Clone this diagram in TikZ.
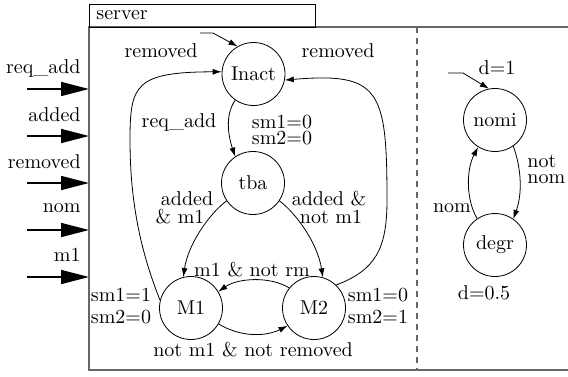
\documentclass[tikz,border=0pt]{standalone}
\usetikzlibrary{arrows.meta}
\begin{document}
\begin{tikzpicture}[x=0.5pt,y=-0.5pt,
  state/.style={draw,circle,minimum size=31.5pt,inner sep=0pt},
  arr/.style={-{Latex[length=4.5pt,width=3pt]}},
  inarrow/.style={line width=0.8pt,-{Triangle[length=14pt,width=7pt]}},
  lbl/.style={inner sep=0pt},
  frame/.style={draw=black!60,line width=0.65pt}]
\useasboundingbox (0,0) rectangle (568,376);
% frame
\draw[frame] (568,27) -- (89,27) -- (89,370) -- (568,370);
\draw[frame,dash pattern=on 3pt off 2.5pt] (417,27) -- (417,370);
\node[draw,minimum width=113pt,minimum height=11.5pt,inner sep=0pt,anchor=north west] (srv) at (89,4) {};
\node[lbl,anchor=west] (srvt) at (96,15) {server};
% states
\node[state] (Inact) at (253.5,74) {Inact};
\node[state] (tba) at (253,183) {tba};
\node[state] (M1) at (191,308) {M1};
\node[state] (M2) at (314,308) {M2};
\node[state] (nomi) at (495,120) {nomi};
\node[state] (degr) at (495,245) {degr};
% initial arrows
\coordinate (i0) at (200,33);
\coordinate (i1) at (213,33);
\draw[arr] (i0) -- (i1) -- (Inact.120);
\coordinate (j0) at (448,73);
\coordinate (j1) at (463,73);
\draw[arr] (j0) -- (j1) -- (nomi.101);
% transitions
\draw[arr] (Inact.235.5) .. controls (225,115) and (228,135) .. (tba.124.7);
\draw[arr] (M1.166) .. controls (140,250) and (130,200) .. (130,140) .. controls (130,85) and (135,72) .. (Inact.176);
\draw[arr] (M2.46) .. controls (375,270) and (387,250) .. (387,200) .. controls (387,90) and (380,72) .. (Inact.349);
\draw[arr] (tba.214) .. controls (208,215) and (188,245) .. (M1.104.5);
\draw[arr] (tba.326) .. controls (298,215) and (318,245) .. (M2.74);
\draw[arr] (M2.141) .. controls (270,276) and (238,278) .. (M1.31.6);
\draw[arr] (M1.330) .. controls (240,337) and (265,337) .. (M2.214);
\draw[arr] (nomi.305) .. controls (522,170) and (522,195) .. (degr.55.8);
\draw[arr] (degr.124.8) .. controls (466,200) and (466,170) .. (nomi.238);
% input arrows
\foreach \n/\yy in {a/89,b/136,c/183,d/230,e/277}{
  \coordinate (s\n) at (27,\yy);
  \coordinate (t\n) at (89,\yy);
  \draw[inarrow] (s\n) -- (t\n);
}
\node[lbl,anchor=east] (la) at (81,68) {req\_add};
\node[lbl,anchor=east] (lb) at (81,115) {added};
\node[lbl,anchor=east] (lc) at (81,162) {removed};
\node[lbl,anchor=east] (ld) at (81,208) {nom};
\node[lbl,anchor=east] (le) at (81,255) {m1};
% labels
\node[lbl] (r1) at (161,51) {removed};
\node[lbl] (r2) at (338,51) {removed};
\node[lbl] (ra) at (179,122) {req\_add};
\node[lbl,align=center] (s12) at (282,130) {sm1=0\\[-4pt]sm2=0};
\node[lbl] (am1) at (187,199) {added};
\node[lbl] (am2) at (180,217) {\& m1};
\node[lbl] (an1) at (329,199) {added \&};
\node[lbl] (an2) at (331,217) {not m1};
\node[lbl] (mr) at (252,270) {m1 \& not rm};
\node[lbl] (q1) at (121,295) {sm1=1};
\node[lbl] (q2) at (121,317) {sm2=0};
\node[lbl] (p1) at (378,295) {sm1=0};
\node[lbl] (p2) at (378,317) {sm2=1};
\node[lbl] (nn) at (253,350) {not m1 \& not removed};
\node[lbl] (d1) at (497,68) {d=1};
\node[lbl] (d2) at (484,293) {d=0.5};
\node[lbl] (nm) at (452,208) {nom};
\node[lbl,align=left,anchor=west] (nt) at (527,169.5) {not\\[-4pt]nom};
\end{tikzpicture}
\end{document}
